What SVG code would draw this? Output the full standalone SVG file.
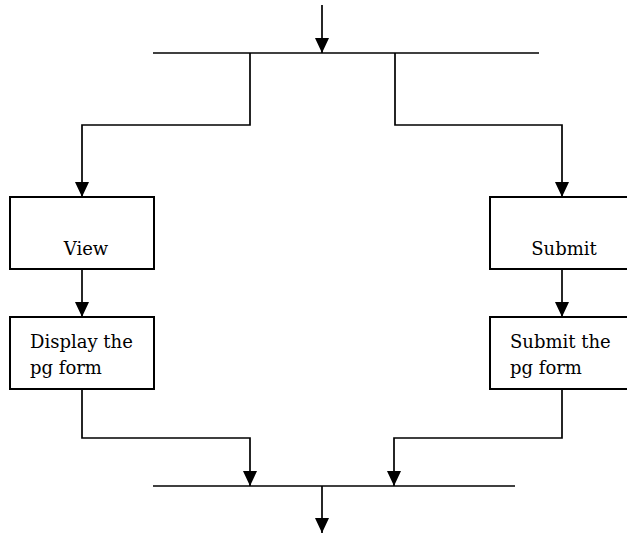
<svg xmlns="http://www.w3.org/2000/svg" width="627" height="534" viewBox="0 0 627 534">
<defs>
<style>
.ln{fill:none;stroke:#000;stroke-width:1.7}
.bx{fill:#fff;stroke:#000;stroke-width:2}
.t{font-family:"DejaVu Serif","Liberation Serif",serif;font-size:18px;fill:#000}
</style>
<marker id="arr" viewBox="0 0 15 14" refX="15" refY="7" markerWidth="15" markerHeight="14" markerUnits="userSpaceOnUse" orient="auto">
<path d="M0,0 L15,7 L0,14 Z" fill="#000"/>
</marker>
</defs>
<g id="connectors">
<line class="ln" x1="322" y1="5" x2="322" y2="53" marker-end="url(#arr)"/>
<line class="ln" x1="153" y1="53" x2="539" y2="53"/>
<polyline class="ln" points="250,53 250,125 82,125 82,197" marker-end="url(#arr)"/>
<polyline class="ln" points="395,53 395,125 562,125 562,197" marker-end="url(#arr)"/>
<line class="ln" x1="82" y1="269" x2="82" y2="317" marker-end="url(#arr)"/>
<line class="ln" x1="562" y1="269" x2="562" y2="317" marker-end="url(#arr)"/>
<polyline class="ln" points="82,389 82,438 250,438 250,486" marker-end="url(#arr)"/>
<polyline class="ln" points="562,389 562,438 394,438 394,486" marker-end="url(#arr)"/>
<line class="ln" x1="153" y1="486" x2="515" y2="486"/>
<line class="ln" x1="322" y1="486" x2="322" y2="533" marker-end="url(#arr)"/>
</g>
<g id="view">
<rect class="bx" x="10" y="197" width="144" height="72"/>
<text class="t" x="86" y="255" text-anchor="middle">View</text>
</g>
<g id="submit">
<rect class="bx" x="490" y="197" width="144" height="72"/>
<text class="t" x="564" y="255" text-anchor="middle">Submit</text>
</g>
<g id="display">
<rect class="bx" x="10" y="317" width="144" height="72"/>
<text class="t" x="30" y="348">Display the</text>
<text class="t" x="30" y="374">pg form</text>
</g>
<g id="submitform">
<rect class="bx" x="490" y="317" width="144" height="72"/>
<text class="t" x="510" y="348">Submit the</text>
<text class="t" x="510" y="374">pg form</text>
</g>
</svg>
